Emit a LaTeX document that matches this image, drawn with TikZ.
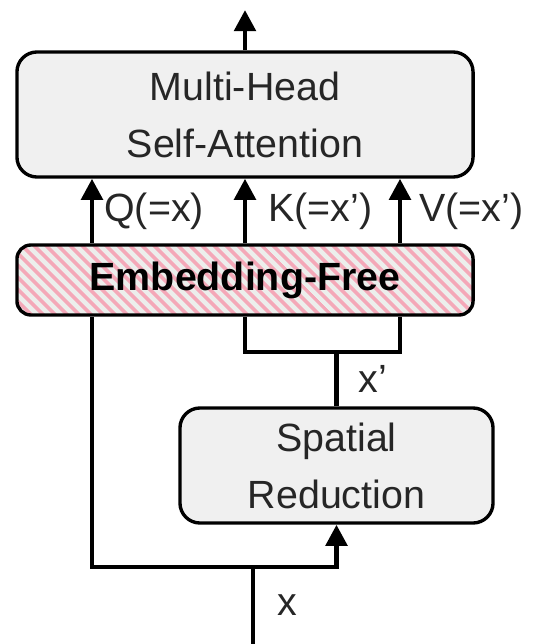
\documentclass[tikz,border=0pt]{standalone}
\usepackage{fontspec}
\setmainfont{Liberation Sans}
\usetikzlibrary{positioning, arrows.meta, patterns.meta}
\definecolor{boxgray}{RGB}{240,240,240}
\definecolor{embgray}{RGB}{236,238,236}
\definecolor{stripe}{RGB}{244,168,184}

\begin{document}
\begin{tikzpicture}[x=0.025cm, y=-0.025cm,
  block/.style={draw, line width=2.4pt, rounded corners=0.5cm, fill=boxgray, text=black!85,
    align=center, inner sep=0pt, font=\fontsize{28}{40.5}\selectfont},
  embbox/.style={draw, line width=2.4pt, rounded corners=0.35cm, preaction={fill=embgray},
    pattern={Lines[angle=-45, distance=6.5pt, line width=2.8pt]}, pattern color=stripe,
    inner sep=0pt, font=\fontsize{28}{34}\selectfont\bfseries},
  wire/.style={line width=3.5pt},
  arr/.style={line width=3.5pt, -{Triangle[length=15pt, width=15pt]}},
  lbl/.style={font=\fontsize{28}{34}\selectfont, text=black!85, inner sep=2pt}]
\useasboundingbox (0,0) rectangle (543,644);

% Blocks
\node[block, minimum width=11.4cm, minimum height=3.125cm] (mhsa) at (245,114.5) {Multi-Head\\Self-Attention};
\node[embbox, minimum width=11.4cm, minimum height=1.75cm] (emb) at (245,280) {Embedding-Free};
\node[block, minimum width=7.825cm, minimum height=2.875cm] (sr) at (336.5,465.5) {Spatial\\Reduction};

% Wire points
\coordinate (out) at (245,10);
\coordinate (in) at (253,644);
\coordinate (split) at (253,567);
\coordinate (merge) at (336.5,352);
\coordinate (qx) at (92,0);
\coordinate (kx) at (245,0);
\coordinate (vx) at (400,0);

% Input and reduction
\draw[wire] (in) -- (split) node[lbl, midway, right=14pt] {x};
\draw[wire] (split) -| (emb.south -| qx);
\draw[arr] (split) -| (sr.south);
\draw[wire] (sr.north) -- (merge) node[lbl, midway, right=12pt] {x’};
\draw[wire] (emb.south -| kx) |- (merge) -| (emb.south -| vx);

% Q, K, V
\draw[arr] (emb.north -| qx) -- (mhsa.south -| qx) node[lbl, midway, right=5pt] {Q(=x)};
\draw[arr] (emb.north -| kx) -- (mhsa.south -| kx) node[lbl, midway, right=13pt] {K(=x’)};
\draw[arr] (emb.north -| vx) -- (mhsa.south -| vx) node[lbl, midway, right=10pt] {V(=x’)};

% Output
\draw[arr] (mhsa.north) -- (out);
\end{tikzpicture}
\end{document}
